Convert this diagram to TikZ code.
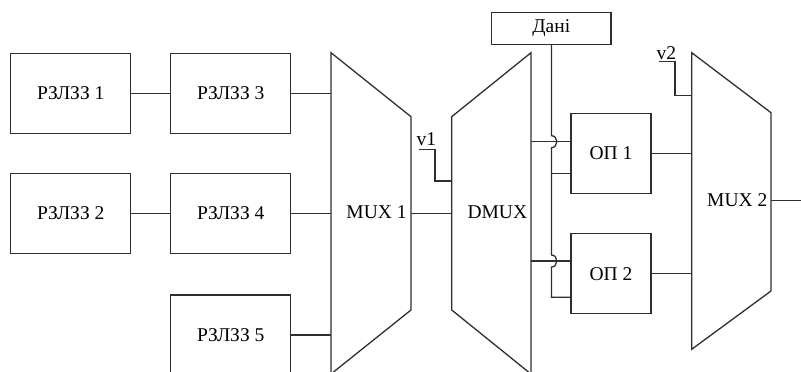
\documentclass[tikz,border=0pt]{standalone}
\usepackage{fontspec}
\setmainfont{Liberation Serif}
\begin{document}
\begin{tikzpicture}[x=1pt,y=-1pt,
  ln/.style={line width=1.3pt, draw=black!82},
  blk/.style={ln, draw, minimum width=120pt, minimum height=80pt, inner sep=0pt},
  opbox/.style={ln, draw, minimum width=80pt, minimum height=80pt, inner sep=0pt},
  lbl/.style={inner sep=0pt, text=black},
  font=\fontsize{19.5}{21}\selectfont]
\clip (0,0) rectangle (801,372);
% left blocks
\node[blk] (r1) at (70.7,93.3) {РЗЛЗЗ 1};
\node[blk] (r3) at (230.7,93.3) {РЗЛЗЗ 3};
\node[blk] (r2) at (70.7,213.3) {РЗЛЗЗ 2};
\node[blk] (r4) at (230.7,213.3) {РЗЛЗЗ 4};
\node[blk] (r5) at (230.7,335) {РЗЛЗЗ 5};
% MUX 1
\draw[ln] (331,52.7) -- (411,116.7) -- (411,310) -- (331,374) -- cycle;
\node[lbl] (mux1) at (376.5,212.5) {MUX 1};
\coordinate (m1l) at (331,213.3);
\coordinate (m1r) at (411,213.3);
% DMUX
\draw[ln] (451.7,116.7) -- (531,52.7) -- (531,374) -- (451.7,310) -- cycle;
\node[lbl] (dmux) at (497.3,212.5) {DMUX};
\coordinate (dl) at (451.7,213.3);
% MUX 2
\draw[ln] (691.7,52.7) -- (771,112.7) -- (771,291) -- (691.7,349.3) -- cycle;
\node[lbl] (mux2) at (737.3,200.2) {MUX 2};
\coordinate (m2l) at (691.7,200.7);
\coordinate (m2r) at (771,200.7);
\coordinate (out) at (801,200.7);
% data and operation blocks
\node[ln, draw, minimum width=119.3pt, minimum height=31.6pt, inner sep=0pt] (dani) at (551.3,28.5) {Дані};
\node[opbox] (op1) at (611,153.3) {ОП 1};
\node[opbox] (op2) at (611,273.7) {ОП 2};
% connectors left
\draw[ln] (r1.east) -- (r3.west);
\draw[ln] (r2.east) -- (r4.west);
\draw[ln] (r3.east) -- (r3.east -| m1l);
\draw[ln] (r4.east) -- (r4.east -| m1l);
\draw[ln] (r5.east) -- (r5.east -| m1l);
\draw[ln] (m1r) -- (dl);
% v1
\node[lbl] (v1) at (426.3,139.5) {v1};
\coordinate (v1a) at (419,149.7);
\coordinate (v1b) at (451.7,181);
\draw[ln] (v1a) -- (435,149.7) -- (435,181) -- (v1b);
% v2
\node[lbl] (v2) at (666.3,53) {v2};
\coordinate (v2a) at (659,61.7);
\coordinate (v2b) at (691.7,95.7);
\draw[ln] (v2a) -- (675,61.7) -- (675,95.7) -- (v2b);
% DMUX outputs
\coordinate (d1) at (531,141.7);
\coordinate (d2) at (531,261);
\draw[ln] (d1) -- (d1 -| op1.west);
\draw[ln] (d2) -- (d2 -| op2.west);
% data bus with hops
\coordinate (b1) at (551.5,173.3);
\coordinate (b2) at (551.5,297.3);
\draw[ln] (dani.south -| b1) -- (551.5,135.7)
  .. controls (558.5,135.7) and (558.5,147.7) .. (551.5,147.7)
  -- (551.5,255)
  .. controls (558.5,255) and (558.5,267) .. (551.5,267)
  -- (b2) -- (b2 -| op2.west);
\draw[ln] (b1) -- (b1 -| op1.west);
% to MUX 2
\draw[ln] (op1.east) -- (op1.east -| m2l);
\draw[ln] (op2.east) -- (op2.east -| m2l);
\draw[ln] (m2r) -- (out);
\end{tikzpicture}
\end{document}
